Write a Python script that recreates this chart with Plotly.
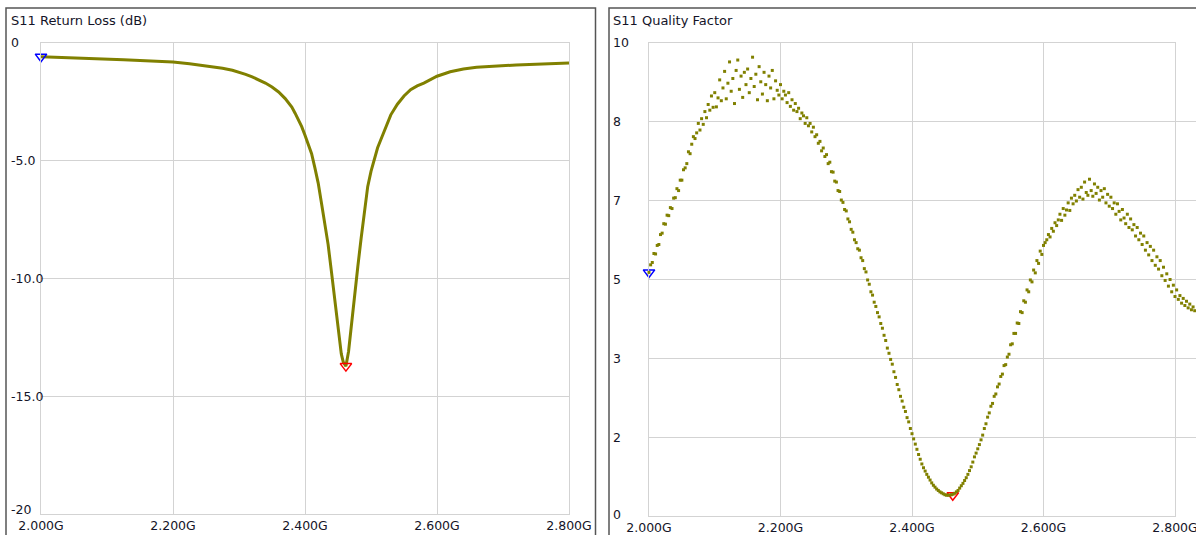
import plotly.graph_objects as go

# ---------------- data ----------------
# S11 return loss (dB) vs frequency (GHz)
S11_FREQ_GHZ = [2.000, 2.025, 2.050, 2.075, 2.100, 2.125, 2.150, 2.175, 2.200, 2.225,
                2.250, 2.275, 2.290, 2.300, 2.310, 2.320, 2.330, 2.340, 2.350, 2.360,
                2.370, 2.380, 2.385, 2.390, 2.395, 2.400, 2.405, 2.410, 2.415, 2.420,
                2.425, 2.430, 2.435, 2.440, 2.445, 2.450, 2.455, 2.458, 2.462, 2.466,
                2.470, 2.475, 2.480, 2.485, 2.490, 2.495, 2.500, 2.505, 2.510, 2.515,
                2.520, 2.530, 2.540, 2.550, 2.560, 2.570, 2.580, 2.590, 2.600, 2.620,
                2.640, 2.660, 2.680, 2.700, 2.720, 2.740, 2.760, 2.780, 2.800]
S11_DB = [-0.58, -0.60, -0.62, -0.65, -0.68, -0.71, -0.74, -0.77, -0.81, -0.88,
          -0.97, -1.07, -1.16, -1.24, -1.33, -1.44, -1.56, -1.70, -1.87, -2.08,
          -2.36, -2.72, -2.98, -3.25, -3.55, -3.92, -4.30, -4.70, -5.30, -5.95,
          -6.80, -7.70, -8.55, -9.70, -10.80, -12.10, -13.20, -13.55, -13.72, -13.10,
          -12.00, -10.90, -9.50, -8.30, -7.10, -6.10, -5.45, -4.95, -4.45, -4.10,
          -3.72, -3.05, -2.60, -2.25, -1.98, -1.82, -1.70, -1.55, -1.41, -1.22,
          -1.10, -1.03, -0.99, -0.96, -0.93, -0.91, -0.89, -0.87, -0.85]

# S11 quality factor vs frequency (MHz), 2.5 MHz sweep points
Q_FREQ_MHZ = [
    2000, 2002.5, 2005, 2007.5, 2010, 2012.5, 2015, 2017.5, 2020, 2022.5, 2025, 2027.5, 2030, 2032.5, 2035, 2037.5, 2040, 2042.5, 2045, 2047.5,
    2050, 2052.5, 2055, 2057.5, 2060, 2062.5, 2065, 2067.5, 2070, 2072.5, 2075, 2077.5, 2080, 2082.5, 2085, 2087.5, 2090, 2092.5, 2095, 2097.5,
    2100, 2102.5, 2105, 2107.5, 2110, 2112.5, 2115, 2117.5, 2120, 2122.5, 2125, 2127.5, 2130, 2132.5, 2135, 2137.5, 2140, 2142.5, 2145, 2147.5,
    2150, 2152.5, 2155, 2157.5, 2160, 2162.5, 2165, 2167.5, 2170, 2172.5, 2175, 2177.5, 2180, 2182.5, 2185, 2187.5, 2190, 2192.5, 2195, 2197.5,
    2200, 2202.5, 2205, 2207.5, 2210, 2212.5, 2215, 2217.5, 2220, 2222.5, 2225, 2227.5, 2230, 2232.5, 2235, 2237.5, 2240, 2242.5, 2245, 2247.5,
    2250, 2252.5, 2255, 2257.5, 2260, 2262.5, 2265, 2267.5, 2270, 2272.5, 2275, 2277.5, 2280, 2282.5, 2285, 2287.5, 2290, 2292.5, 2295, 2297.5,
    2300, 2302.5, 2305, 2307.5, 2310, 2312.5, 2315, 2317.5, 2320, 2322.5, 2325, 2327.5, 2330, 2332.5, 2335, 2337.5, 2340, 2342.5, 2345, 2347.5,
    2350, 2352.5, 2355, 2357.5, 2360, 2362.5, 2365, 2367.5, 2370, 2372.5, 2375, 2377.5, 2380, 2382.5, 2385, 2387.5, 2390, 2392.5, 2395, 2397.5,
    2400, 2402.5, 2405, 2407.5, 2410, 2412.5, 2415, 2417.5, 2420, 2422.5, 2425, 2427.5, 2430, 2432.5, 2435, 2437.5, 2440, 2442.5, 2445, 2447.5,
    2450, 2452.5, 2455, 2457.5, 2460, 2462.5, 2465, 2467.5, 2470, 2472.5, 2475, 2477.5, 2480, 2482.5, 2485, 2487.5, 2490, 2492.5, 2495, 2497.5,
    2500, 2502.5, 2505, 2507.5, 2510, 2512.5, 2515, 2517.5, 2520, 2522.5, 2525, 2527.5, 2530, 2532.5, 2535, 2537.5, 2540, 2542.5, 2545, 2547.5,
    2550, 2552.5, 2555, 2557.5, 2560, 2562.5, 2565, 2567.5, 2570, 2572.5, 2575, 2577.5, 2580, 2582.5, 2585, 2587.5, 2590, 2592.5, 2595, 2597.5,
    2600, 2602.5, 2605, 2607.5, 2610, 2612.5, 2615, 2617.5, 2620, 2622.5, 2625, 2627.5, 2630, 2632.5, 2635, 2637.5, 2640, 2642.5, 2645, 2647.5,
    2650, 2652.5, 2655, 2657.5, 2660, 2662.5, 2665, 2667.5, 2670, 2672.5, 2675, 2677.5, 2680, 2682.5, 2685, 2687.5, 2690, 2692.5, 2695, 2697.5,
    2700, 2702.5, 2705, 2707.5, 2710, 2712.5, 2715, 2717.5, 2720, 2722.5, 2725, 2727.5, 2730, 2732.5, 2735, 2737.5, 2740, 2742.5, 2745, 2747.5,
    2750, 2752.5, 2755, 2757.5, 2760, 2762.5, 2765, 2767.5, 2770, 2772.5, 2775, 2777.5, 2780, 2782.5, 2785, 2787.5, 2790, 2792.5, 2795, 2797.5,
    2800, 2802.5, 2805, 2807.5, 2810, 2812.5, 2815, 2817.5, 2820, 2822.5, 2825, 2827.5, 2830]
Q_VALUES = [
    5.15, 5.31, 5.36, 5.55, 5.54, 5.72, 5.74, 5.95, 5.98, 6.18, 6.17, 6.36, 6.35, 6.52, 6.50, 6.72, 6.73, 6.92, 6.88, 7.10,
    7.10, 7.32, 7.36, 7.45, 7.70, 7.66, 7.86, 8.02, 7.98, 8.10, 8.30, 8.16, 8.40, 8.28, 8.55, 8.42, 8.70, 8.58, 8.88, 8.64,
    8.95, 8.65, 8.84, 9.22, 8.78, 9.05, 9.40, 8.82, 9.15, 9.60, 8.98, 9.25, 8.72, 9.42, 9.64, 9.02, 9.30, 8.85, 9.38, 9.12,
    9.45, 8.95, 9.25, 9.70, 9.08, 9.34, 8.80, 9.50, 9.18, 8.92, 9.38, 9.12, 8.78, 9.30, 9.05, 9.42, 8.82, 9.20, 9.00, 8.90,
    9.12, 8.82, 8.98, 8.90, 8.74, 8.95, 8.66, 8.80, 8.58, 8.72, 8.55, 8.62, 8.40, 8.52, 8.46, 8.30, 8.42, 8.25, 8.30, 8.12,
    8.22, 8.02, 8.06, 7.88, 7.92, 7.72, 7.78, 7.60, 7.64, 7.45, 7.48, 7.28, 7.27, 7.08, 7.06, 6.88, 6.86, 6.68, 6.63, 6.48,
    6.45, 6.28, 6.22, 6.06, 6.00, 5.84, 5.78, 5.65, 5.62, 5.46, 5.40, 5.23, 5.16, 4.99, 4.90, 4.74, 4.67, 4.52, 4.43, 4.30,
    4.21, 4.07, 3.97, 3.82, 3.71, 3.55, 3.44, 3.31, 3.21, 3.05, 2.93, 2.78, 2.67, 2.53, 2.43, 2.30, 2.21, 2.08, 1.99, 1.85,
    1.74, 1.63, 1.52, 1.41, 1.30, 1.20, 1.10, 1.02, 0.95, 0.88, 0.82, 0.76, 0.70, 0.65, 0.61, 0.57, 0.54, 0.51, 0.49, 0.47,
    0.45, 0.44, 0.44, 0.44, 0.45, 0.46, 0.48, 0.51, 0.54, 0.59, 0.64, 0.69, 0.75, 0.81, 0.88, 0.96, 1.04, 1.14, 1.25, 1.33,
    1.42, 1.51, 1.61, 1.71, 1.85, 1.95, 2.09, 2.18, 2.32, 2.38, 2.53, 2.58, 2.73, 2.79, 2.95, 3.00, 3.18, 3.20, 3.36, 3.42,
    3.62, 3.64, 3.86, 3.86, 4.08, 4.07, 4.32, 4.30, 4.55, 4.52, 4.78, 4.74, 4.99, 4.95, 5.20, 5.14, 5.40, 5.34, 5.60, 5.53,
    5.72, 5.78, 5.84, 5.95, 5.90, 6.08, 6.02, 6.20, 6.14, 6.26, 6.38, 6.25, 6.50, 6.36, 6.47, 6.62, 6.46, 6.72, 6.60, 6.78,
    6.66, 6.90, 6.74, 6.95, 6.70, 7.06, 6.84, 6.78, 7.12, 6.88, 6.76, 7.02, 6.82, 6.95, 6.68, 6.88, 6.74, 6.92, 6.62, 6.80,
    6.55, 6.74, 6.50, 6.62, 6.38, 6.60, 6.44, 6.26, 6.48, 6.30, 6.18, 6.38, 6.10, 6.28, 6.05, 6.16, 5.92, 6.10, 5.84, 5.98,
    5.74, 5.92, 5.62, 5.78, 5.52, 5.70, 5.40, 5.62, 5.30, 5.48, 5.22, 5.40, 5.08, 5.26, 4.98, 5.12, 4.86, 5.00, 4.74, 4.88,
    4.64, 4.78, 4.58, 4.66, 4.50, 4.60, 4.45, 4.54, 4.40, 4.48, 4.36, 4.42, 4.34]

X_TICKS_GHZ = [2.0, 2.2, 2.4, 2.6, 2.8]
X_TICK_LABELS = ["2.000G", "2.200G", "2.400G", "2.600G", "2.800G"]
S11_Y_TICKS = [0, -5, -10, -15, -20]
S11_Y_LABELS = ["0", "-5.0", "-10.0", "-15.0", "-20"]
Q_Y_TICKS = [0, 1.6667, 3.3333, 5, 6.6667, 8.3333, 10]
Q_Y_LABELS = ["0", "2", "3", "5", "7", "8", "10"]

TITLE_LEFT = "S11 Return Loss (dB)"
TITLE_RIGHT = "S11 Quality Factor"

# ---------------- styling ----------------
W, H = 1196, 535
OLIVE = "#808000"
GRID = "#d3d3d3"
TXT = "#141428"
FONT = "DejaVu Sans"

q_freq_ghz = [f / 1000.0 for f in Q_FREQ_MHZ]

# pixel frame of the right plot; the sweep runs past the 2.800G gridline
R_X0, R_X1, R_XEDGE = 649, 1175, 1196
x3_max = 2.8 + (R_XEDGE - R_X1) * 0.8 / (R_X1 - R_X0)


def px(x):
    return x / W


def py(y):
    return 1 - y / H


def tri(color):
    return dict(symbol="triangle-down-open", size=10, color=color,
                line=dict(width=1.5, color=color))


fig = go.Figure()

# left: return loss
fig.add_trace(go.Scatter(x=S11_FREQ_GHZ, y=S11_DB, mode="lines",
                         line=dict(color=OLIVE, width=3),
                         xaxis="x", yaxis="y", hoverinfo="skip"))
i_min = S11_DB.index(min(S11_DB))
fig.add_trace(go.Scatter(x=[S11_FREQ_GHZ[0]], y=[S11_DB[0]], mode="markers",
                         marker=tri("#0000ff"), xaxis="x", yaxis="y", cliponaxis=False))
fig.add_trace(go.Scatter(x=[S11_FREQ_GHZ[i_min]], y=[S11_DB[i_min]], mode="markers",
                         marker=tri("#ff0000"), xaxis="x", yaxis="y", cliponaxis=False))

# right: quality factor (drawn on a same-scale axis reaching the frame edge)
fig.add_trace(go.Scatter(x=q_freq_ghz, y=Q_VALUES, mode="markers",
                         marker=dict(symbol="square", size=3, color=OLIVE, line=dict(width=0)),
                         xaxis="x3", yaxis="y2", cliponaxis=False, hoverinfo="skip"))
j_min = Q_VALUES.index(min(Q_VALUES))
fig.add_trace(go.Scatter(x=[q_freq_ghz[0]], y=[Q_VALUES[0]], mode="markers",
                         marker=tri("#0000ff"), xaxis="x2", yaxis="y2", cliponaxis=False))
fig.add_trace(go.Scatter(x=[S11_FREQ_GHZ[i_min]], y=[Q_VALUES[j_min]], mode="markers",
                         marker=tri("#ff0000"), xaxis="x2", yaxis="y2", cliponaxis=False))

axis_font = dict(family=FONT, size=12.5, color=TXT)
xcommon = dict(range=[2.0, 2.8], tickvals=X_TICKS_GHZ, ticktext=X_TICK_LABELS,
               showgrid=True, gridcolor=GRID, gridwidth=1, zeroline=False,
               showline=True, mirror=True, linecolor=GRID, linewidth=1,
               ticks="", tickfont=axis_font, fixedrange=True, automargin=False,
               ticklabeloverflow="allow")
ycommon = dict(showgrid=True, gridcolor=GRID, gridwidth=1, zeroline=False,
               showline=True, mirror=True, linecolor=GRID, linewidth=1,
               ticks="", showticklabels=False, fixedrange=True, automargin=False)

# y tick labels: left-aligned text placed on the axis scale
annotations = []
for k, (v, t) in enumerate(zip(S11_Y_TICKS, S11_Y_LABELS)):
    annotations.append(dict(text=t, xref="paper", yref="y", x=px(9), y=v,
                            xanchor="left", yanchor="middle", showarrow=False,
                            yshift=5 if k == len(S11_Y_TICKS) - 1 else 0,
                            font=axis_font))
for k, (v, t) in enumerate(zip(Q_Y_TICKS, Q_Y_LABELS)):
    annotations.append(dict(text=t, xref="paper", yref="y2", x=px(611), y=v,
                            xanchor="left", yanchor="middle", showarrow=False,
                            yshift=2 if k == 0 else 0,
                            font=axis_font))
annotations += [
    dict(text=TITLE_LEFT, xref="paper", yref="paper", x=px(9), y=py(20),
         xanchor="left", yanchor="middle", showarrow=False,
         font=dict(family=FONT, size=13, color=TXT)),
    dict(text=TITLE_RIGHT, xref="paper", yref="paper", x=px(611), y=py(20),
         xanchor="left", yanchor="middle", showarrow=False,
         font=dict(family=FONT, size=13, color=TXT)),
]

fig.update_layout(
    width=W, height=H,
    margin=dict(l=0, r=0, t=0, b=0, pad=0),
    paper_bgcolor="white", plot_bgcolor="rgba(0,0,0,0)",
    showlegend=False, hovermode=False,
    xaxis=dict(domain=[px(41), px(569)], anchor="y", **xcommon),
    yaxis=dict(domain=[py(514), py(43)], range=[-20, 0], anchor="x",
               tickvals=S11_Y_TICKS, **ycommon),
    xaxis2=dict(domain=[px(R_X0), px(R_X1)], anchor="y2", **xcommon),
    yaxis2=dict(domain=[py(516), py(43)], range=[0, 10], anchor="x2",
                tickvals=Q_Y_TICKS, **ycommon),
    xaxis3=dict(domain=[px(R_X0), 1.0], range=[2.0, x3_max], anchor="y2",
                showgrid=False, showline=False, zeroline=False, showticklabels=False,
                ticks="", fixedrange=True, automargin=False),
    annotations=annotations,
    shapes=[
        dict(type="rect", xref="paper", yref="paper", x0=px(6), x1=px(595.5),
             y0=py(545), y1=py(8), line=dict(color="#555555", width=1.5), layer="above"),
        dict(type="rect", xref="paper", yref="paper", x0=px(609), x1=px(1210),
             y0=py(545), y1=py(8), line=dict(color="#555555", width=1.5), layer="above"),
    ],
)

fig.write_html("out.html", config={"displayModeBar": False, "staticPlot": True},
               post_script="document.body.style.margin='0';")
